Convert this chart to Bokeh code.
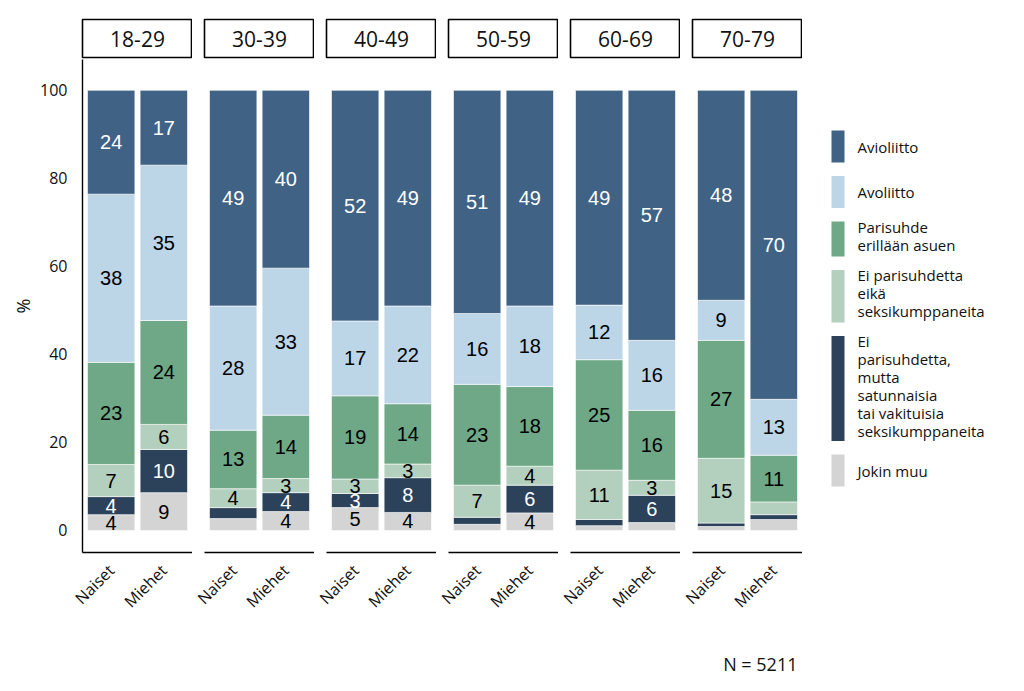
import numpy as np
from bokeh.plotting import figure
from bokeh.layouts import row, column
from bokeh.models import ColumnDataSource, FactorRange, Range1d, FixedTicker
from bokeh.core.properties import value
from bokeh.embed import file_html
from bokeh.resources import INLINE

# ---------------- data ----------------
ages = ["18-29", "30-39", "40-49", "50-59", "60-69", "70-79"]
sexes = ["Naiset", "Miehet"]
caption = "N = 5211"
y_ticks = [0, 20, 40, 60, 80, 100]

# stacking order bottom -> top
cat_keys = ["jokin", "satunnaisia", "eika", "erillaan", "avoliitto", "avioliitto"]
legend_labels = {
    "avioliitto": "Avioliitto",
    "avoliitto": "Avoliitto",
    "erillaan": "Parisuhde\nerillään asuen",
    "eika": "Ei parisuhdetta\neikä\nseksikumppaneita",
    "satunnaisia": "Ei\nparisuhdetta,\nmutta\nsatunnaisia\ntai vakituisia\nseksikumppaneita",
    "jokin": "Jokin muu",
}
colors = {
    "avioliitto": "#3f6285",
    "avoliitto": "#bcd5e7",
    "erillaan": "#6ea886",
    "eika": "#b3cfbd",
    "satunnaisia": "#2b425a",
    "jokin": "#d4d4d4",
}
label_colors = {
    "avioliitto": "white",
    "avoliitto": "black",
    "erillaan": "black",
    "eika": "black",
    "satunnaisia": "white",
    "jokin": "black",
}

# values (%) ordered: 18-29 Naiset, 18-29 Miehet, 30-39 Naiset, 30-39 Miehet, ...
jokin = [3.6, 8.6, 2.7, 4.3, 5.2, 4.1, 1.4, 4.0, 1.1, 1.8, 0.9, 2.5]
satunnaisia = [4.1, 9.8, 2.5, 4.3, 3.2, 7.9, 1.6, 6.3, 1.4, 6.2, 0.8, 1.1]
eika = [7.3, 5.7, 4.3, 3.2, 3.3, 3.1, 7.3, 4.3, 11.2, 3.4, 14.7, 2.9]
erillaan = [23.2, 23.6, 13.3, 14.4, 18.9, 13.7, 22.9, 18.1, 25.1, 15.9, 26.8, 10.6]
avoliitto = [38.2, 35.3, 28.2, 33.4, 17.0, 22.2, 16.1, 18.3, 12.4, 15.9, 9.1, 12.7]
avioliitto = [23.6, 17.0, 49.0, 40.4, 52.4, 49.0, 50.7, 49.0, 48.8, 56.8, 47.7, 70.2]

series = {
    "jokin": jokin,
    "satunnaisia": satunnaisia,
    "eika": eika,
    "erillaan": erillaan,
    "avoliitto": avoliitto,
    "avioliitto": avioliitto,
}

# ---------------- layout constants ----------------
FW = 110          # panel frame width
FH = 493          # panel frame height
GAP = 12
LEFT = 82
BOTTOM = 90
STRIP_TOP = 19
STRIP_H = 38
STRIP_GAP = 2
LEG_W = 1024 - (LEFT + FW + 5 * (GAP + FW))
UI_FONT = "Open Sans"
VAL_FONT = "Liberation Sans"
TXT = "#111111"

strip_figs = []
panel_figs = []
for i, age in enumerate(ages):
    first = i == 0
    # ---- strip ----
    s = figure(frame_width=FW, frame_height=STRIP_H,
               min_border_left=LEFT if first else GAP, min_border_right=0,
               min_border_top=STRIP_TOP, min_border_bottom=STRIP_GAP,
               x_range=Range1d(0, 1), y_range=Range1d(0, 1),
               x_axis_location=None, y_axis_location=None,
               toolbar_location=None, output_backend="svg",
               outline_line_color="black", outline_line_width=1.6)
    s.grid.visible = False
    s.text(x=[0.5], y=[0.5], text=[age], text_align="center", text_baseline="middle",
           text_font=value(UI_FONT), text_font_size="21px", text_color=TXT)
    strip_figs.append(s)

    # ---- panel ----
    p = figure(x_range=FactorRange(factors=sexes, range_padding=0.045,
                                   range_padding_units="percent"),
               y_range=Range1d(-5, 107),
               frame_width=FW, frame_height=FH,
               min_border_left=LEFT if first else GAP, min_border_right=0,
               min_border_top=0, min_border_bottom=BOTTOM,
               y_axis_location="left" if first else None,
               toolbar_location=None, output_backend="svg",
               outline_line_color=None)
    p.grid.visible = False

    data = {"sex": sexes}
    for k in cat_keys:
        data[k] = [series[k][2 * i], series[k][2 * i + 1]]
    src = ColumnDataSource(data)
    p.vbar_stack(cat_keys, x="sex", width=0.9, source=src,
                 color=[colors[k] for k in cat_keys],
                 line_color="white", line_width=0.6)

    lx, ly, lt, lc = [], [], [], []
    for j, sex in enumerate(sexes):
        base = 0.0
        for k in cat_keys:
            v = data[k][j]
            if v >= 3:
                lx.append(sex)
                ly.append(base + v / 2)
                lt.append(str(int(round(v))))
                lc.append(label_colors[k])
            base += v
    p.text(x=lx, y=ly, text=lt, text_color=lc, text_align="center",
           text_baseline="middle", text_font=value(VAL_FONT), text_font_size="20px")

    p.xaxis.major_label_orientation = np.pi / 4
    p.xaxis.major_tick_line_color = None
    p.xaxis.minor_tick_line_color = None
    p.xaxis.axis_line_color = "black"
    p.xaxis.axis_line_width = 1.4
    p.xaxis.major_label_text_font = UI_FONT
    p.xaxis.major_label_text_font_size = "16px"
    p.xaxis.major_label_text_color = TXT
    p.xaxis.major_label_standoff = 9
    if first:
        p.yaxis.ticker = FixedTicker(ticks=y_ticks)
        p.yaxis.major_tick_line_color = None
        p.yaxis.minor_tick_line_color = None
        p.yaxis.axis_line_color = "black"
        p.yaxis.axis_line_width = 1.4
        p.yaxis.major_label_text_font = UI_FONT
        p.yaxis.major_label_text_font_size = "16px"
        p.yaxis.major_label_text_color = TXT
        p.yaxis.major_label_standoff = 9
        p.yaxis.axis_label = "%"
        p.yaxis.axis_label_text_font = UI_FONT
        p.yaxis.axis_label_text_font_style = "normal"
        p.yaxis.axis_label_text_font_size = "18px"
        p.yaxis.axis_label_text_color = TXT
        p.yaxis.axis_label_standoff = 2
    panel_figs.append(p)

# ---------------- legend ----------------
PH = FH + BOTTOM
leg = figure(frame_width=LEG_W, frame_height=PH, min_border=0,
             x_range=Range1d(0, LEG_W), y_range=Range1d(PH, 0),
             x_axis_location=None, y_axis_location=None,
             toolbar_location=None, output_backend="svg", outline_line_color=None)
leg.grid.visible = False
leg_order = list(reversed(cat_keys))
line_h = 17.5
y0 = 71
gap = 13.5
text_shift = -3
sw_l, sw_r, tops, bots, mids, texts, fills = [], [], [], [], [], [], []
y = y0
for k in leg_order:
    n = legend_labels[k].count("\n") + 1
    h = max(32.0, n * line_h)
    tops.append(y)
    bots.append(y + h)
    mids.append(y + h / 2 + (text_shift if n > 1 else 0))
    texts.append(legend_labels[k])
    fills.append(colors[k])
    sw_l.append(29)
    sw_r.append(42)
    y += h + gap
leg.quad(left=sw_l, right=sw_r, top=tops, bottom=bots, fill_color=fills, line_color=None)
leg.text(x=[55] * len(texts), y=mids, text=texts, text_align="left", text_baseline="middle",
         text_font=value(UI_FONT), text_font_size="15px", text_color=TXT,
         text_line_height=0.9)

# ---------------- caption ----------------
CH = 691 - STRIP_TOP - STRIP_H - STRIP_GAP - PH
cap = figure(frame_width=1024, frame_height=CH, min_border=0,
             x_range=Range1d(0, 1024), y_range=Range1d(CH, 0),
             x_axis_location=None, y_axis_location=None,
             toolbar_location=None, output_backend="svg", outline_line_color=None)
cap.grid.visible = False
cap.text(x=[797], y=[21], text=[caption], text_align="right", text_baseline="middle",
         text_font=value(UI_FONT), text_font_size="18px", text_color=TXT)

layout = column(row(*strip_figs), row(*panel_figs, leg), cap)

open("out.html", "w").write(file_html(layout, INLINE))
